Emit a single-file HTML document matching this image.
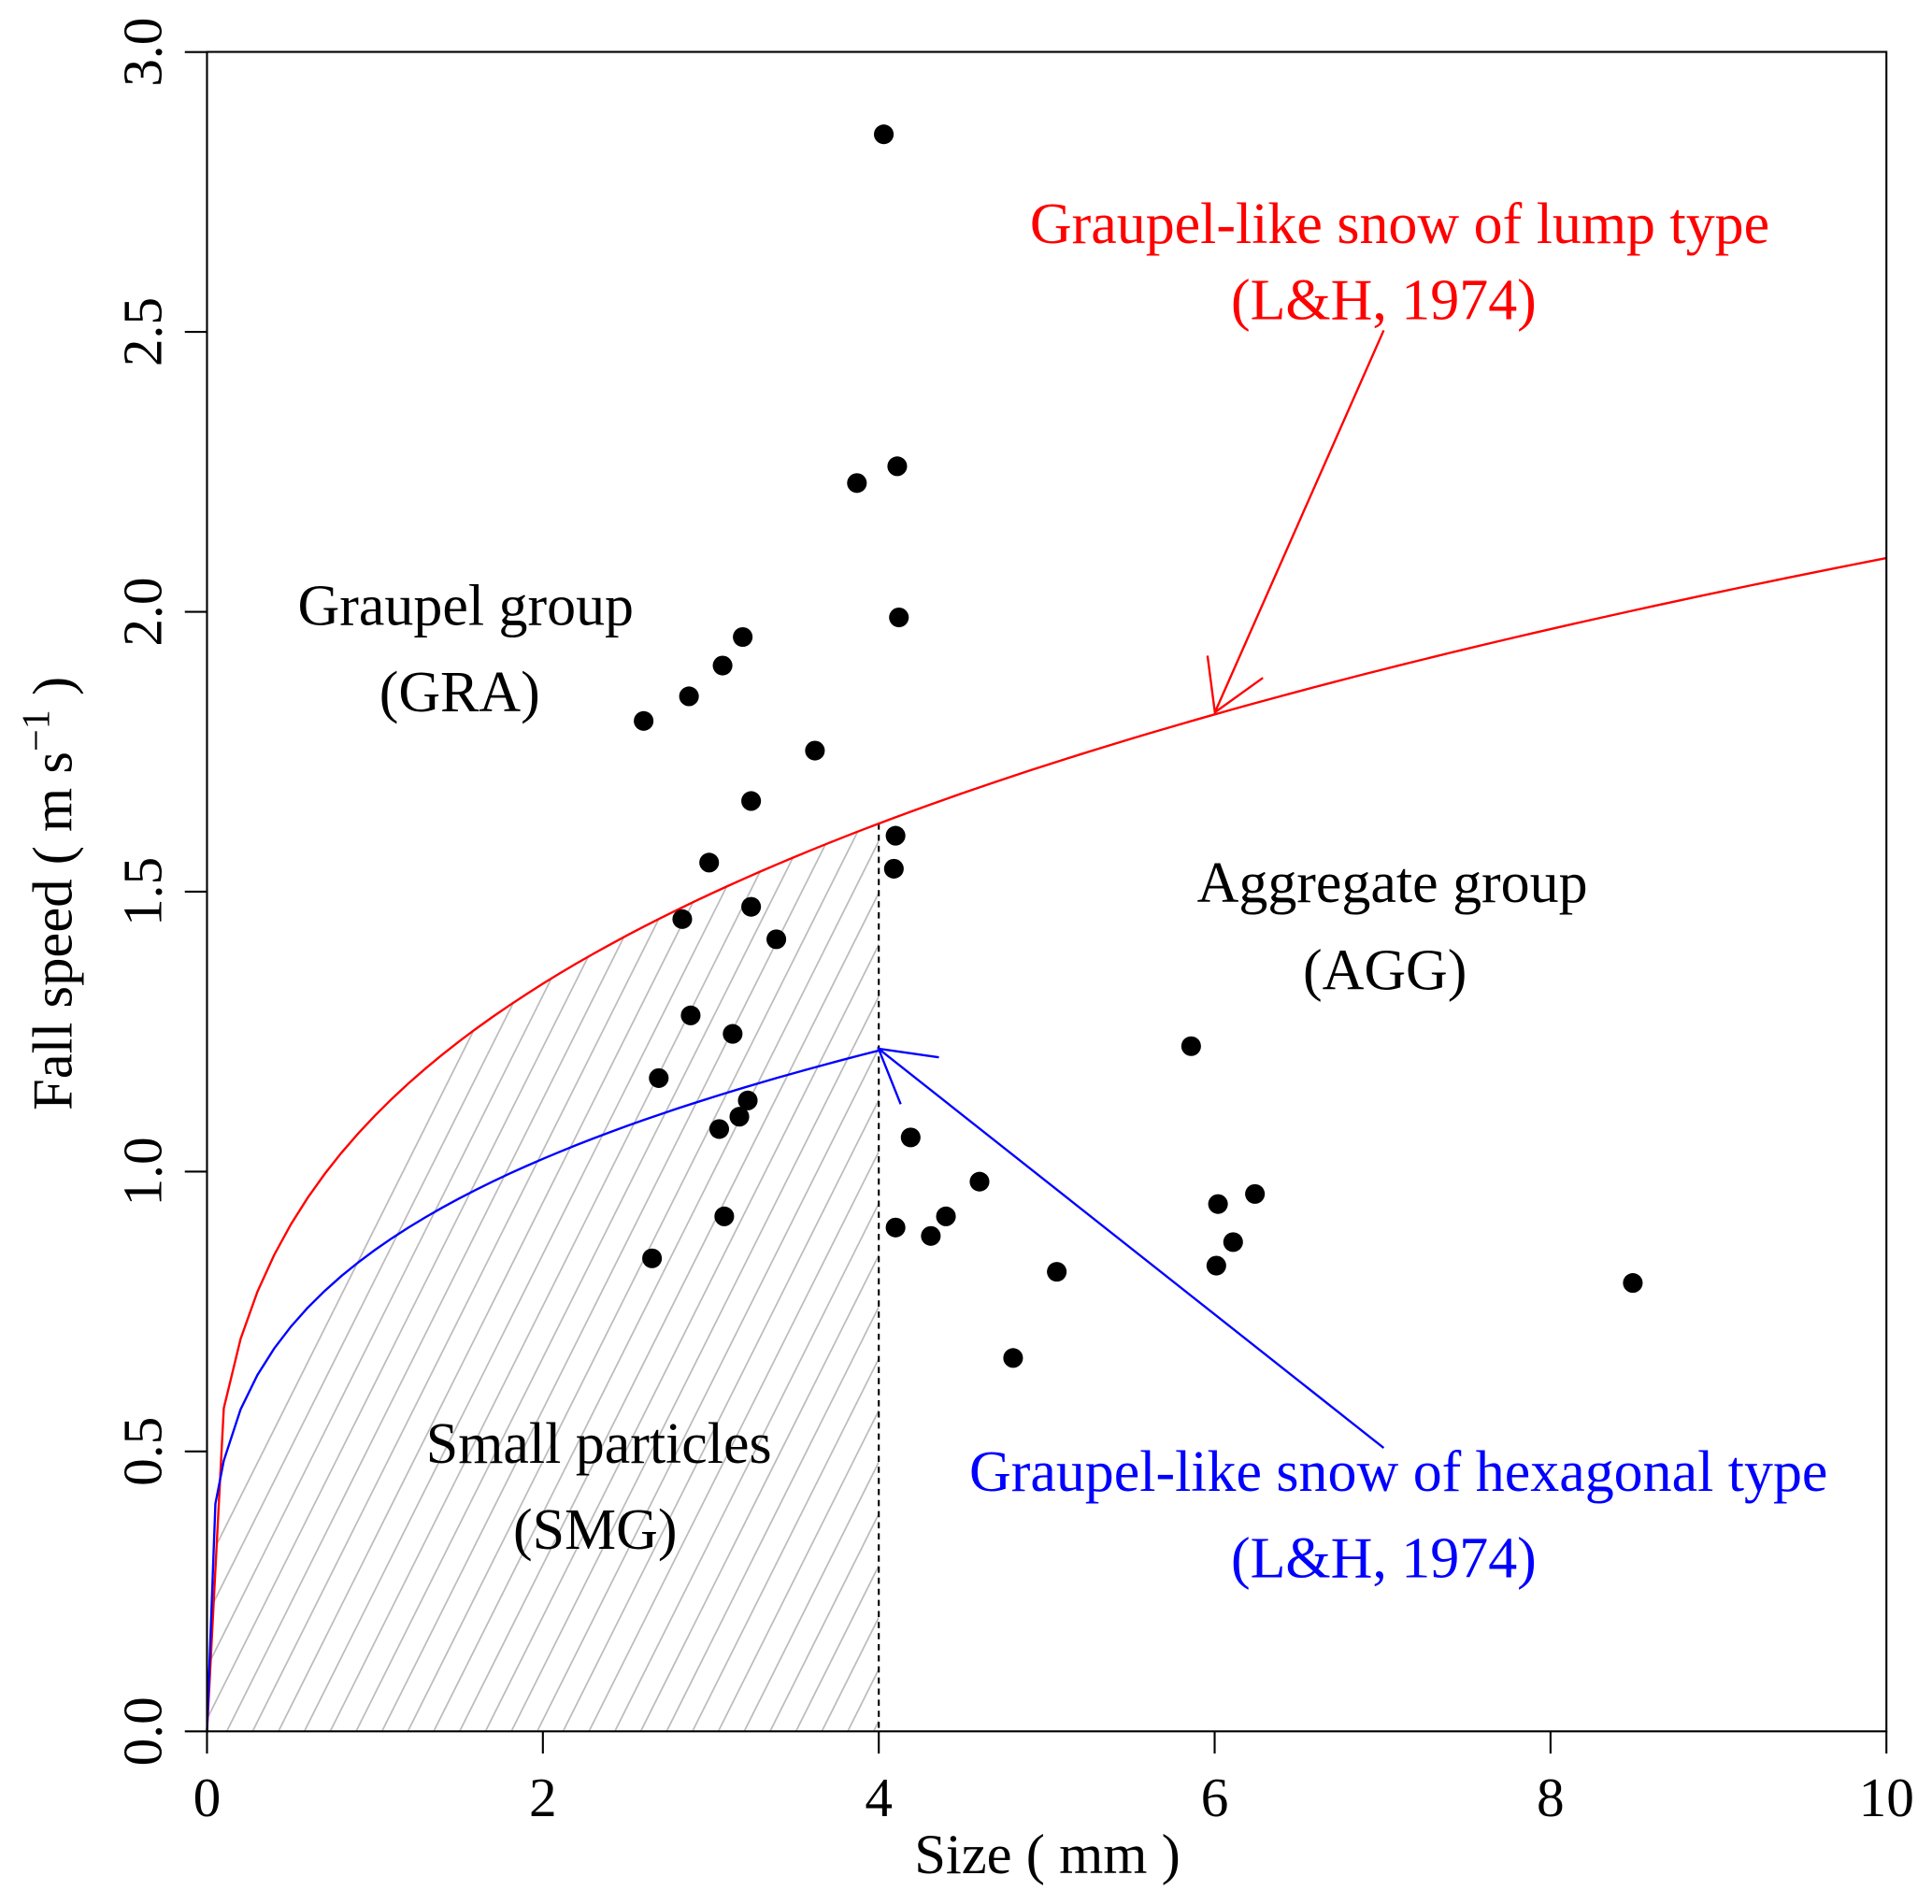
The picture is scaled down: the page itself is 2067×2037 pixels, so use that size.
<!DOCTYPE html>
<html><head><meta charset="utf-8"><style>
html,body{margin:0;padding:0;background:#fff;}
svg{display:block;font-family:"Liberation Serif",serif;}
</style></head><body>
<svg id="chart" width="2067" height="2037" viewBox="0 0 1568 1545" xmlns="http://www.w3.org/2000/svg">
<defs>
<clipPath id="smgclip"><path id="smgpath" d=""/></clipPath>
</defs>
<rect width="1568" height="1545" fill="#fff"/>
<g id="hatch" clip-path="url(#smgclip)"></g>
<g id="lines"></g>
<g id="dots"></g>
<rect x="168" y="42" width="1363" height="1363" fill="none" stroke="#000" stroke-width="1.6"/>
<g id="axes"></g>
<text x="850" y="1520" font-size="46" text-anchor="middle">Size ( mm )</text>
<text transform="translate(58,725) rotate(-90)" font-size="46" text-anchor="middle">Fall speed ( m s<tspan dy="-18" font-size="32">−1</tspan><tspan dy="18"> )</tspan></text>
<g font-size="47" text-anchor="middle">
<text x="378" y="507">Graupel group</text><text x="373" y="577">(GRA)</text></g>
<g font-size="47" text-anchor="middle">
<text x="1130" y="732">Aggregate group</text><text x="1124" y="803">(AGG)</text></g>
<g font-size="47" text-anchor="middle">
<text x="486" y="1187">Small particles</text><text x="483" y="1257">(SMG)</text></g>
<g font-size="47" text-anchor="middle" fill="#f00">
<text x="1136" y="197">Graupel-like snow of lump type</text><text x="1123" y="259">(L&amp;H, 1974)</text></g>
<g font-size="47" text-anchor="middle" fill="#00f">
<text x="1135" y="1210">Graupel-like snow of hexagonal type</text><text x="1123" y="1280">(L&amp;H, 1974)</text></g>
<g stroke="#f00" stroke-width="1.8" fill="none">
<line x1="1123" y1="268" x2="986" y2="578"/><polyline points="980,532 986,578 1025,550"/></g>
<g stroke="#00f" stroke-width="1.8" fill="none">
<line x1="1123" y1="1175" x2="713" y2="851"/><polyline points="762,858 713,851 731,896"/></g>
</svg>
<script>
const xTicks=[0,2,4,6,8,10];
const yTicks=[0,0.5,1.0,1.5,2.0,2.5,3.0];
const obsX=[4.03,3.87,4.11,4.12,3.19,3.07,2.87,2.60,3.62,3.24,4.10,4.09,2.99,2.83,3.24,3.39,2.88,3.13,2.69,3.22,3.17,3.05,3.08,2.65,4.19,4.60,4.10,4.40,4.31,4.80,5.06,5.86,6.02,6.24,6.11,6.01,8.49];
const obsY=[2.853,2.23,2.26,1.99,1.955,1.904,1.849,1.805,1.752,1.662,1.600,1.541,1.552,1.451,1.473,1.415,1.279,1.246,1.167,1.127,1.098,1.076,0.920,0.845,1.061,0.982,0.900,0.920,0.885,0.667,0.821,1.224,0.942,0.960,0.874,0.832,0.801];
const lumpCoef=[1.10,0.28];
const hexCoef=[0.86,0.25];
const smgMax=[4];
const NS='http://www.w3.org/2000/svg';
const X=v=>168+v*136.3, Y=v=>1405-v*454.3;
function mk(tag,attrs,parent){const e=document.createElementNS(NS,tag);for(const k in attrs)e.setAttribute(k,attrs[k]);parent.appendChild(e);return e;}
const axes=document.getElementById('axes');
xTicks.forEach(t=>{
 const l=mk('line',{x1:X(t),x2:X(t),y1:1405,y2:1423,stroke:'#000','stroke-width':1.6},axes);
 
 
 const tx=mk('text',{x:X(t),y:1474,'font-size':45,'text-anchor':'middle'},axes);tx.textContent=String(t);
 
 
});
yTicks.forEach(t=>{
 const l=mk('line',{x1:150,x2:168,y1:Y(t),y2:Y(t),stroke:'#000','stroke-width':1.6},axes);
 
 
 const tx=mk('text',{transform:`translate(131,${Y(t)}) rotate(-90)`,'font-size':45,'text-anchor':'middle'},axes);tx.textContent=t.toFixed(1);
 
 
});
function curve(c,xmax,first){const xs=[0];if(first)xs.push(first);for(let i=1;i<=Math.round(xmax/0.1);i++)xs.push(i*0.1);return xs.map(x=>[X(x),Y(c[0]*Math.pow(x,c[1]))]);}
const lump=curve(lumpCoef,10), hex=curve(hexCoef,4,0.05), lump4=curve(lumpCoef,smgMax[0]);
document.getElementById('smgpath').setAttribute('d','M'+lump4.map(p=>p.join(',')).join(' L')+` L${X(smgMax[0])},1405 L168,1405 Z`);
const hatch=document.getElementById('hatch');
for(let x0=100;x0<800;x0+=21){mk('line',{x1:x0,y1:1405,x2:x0+380,y2:645,stroke:'#bbb','stroke-width':1.3},hatch);}
const lines=document.getElementById('lines');
const dash=mk('line',{x1:X(smgMax[0]),x2:X(smgMax[0]),y1:Y(lumpCoef[0]*Math.pow(smgMax[0],lumpCoef[1])),y2:1405,stroke:'#000','stroke-width':1.6,'stroke-dasharray':'5,4'},lines);


const rl=mk('polyline',{points:lump.map(p=>p.join(',')).join(' '),fill:'none',stroke:'#f00','stroke-width':1.8},lines);


const bl=mk('polyline',{points:hex.map(p=>p.join(',')).join(' '),fill:'none',stroke:'#00f','stroke-width':1.8},lines);


const dots=document.getElementById('dots');
obsX.forEach((x,i)=>{const c=mk('circle',{cx:X(x),cy:Y(obsY[i]),r:8,fill:'#000'},dots);
 
 });
</script>
</body></html>
